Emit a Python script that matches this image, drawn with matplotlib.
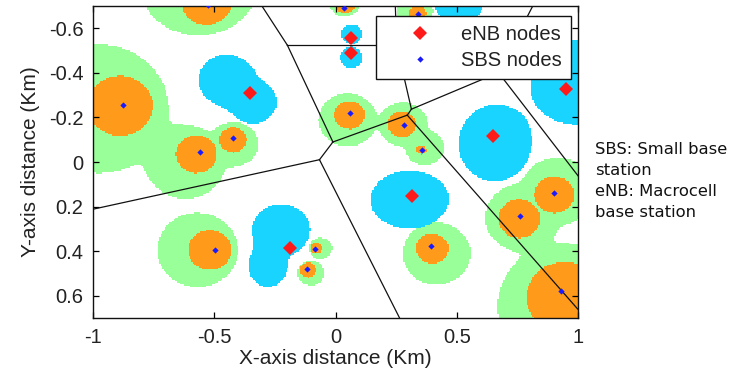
import numpy as np
import matplotlib
matplotlib.use("Agg")
import matplotlib.pyplot as plt
from matplotlib.lines import Line2D

plt.rcParams["axes.unicode_minus"] = False
plt.rcParams["font.family"] = ["Liberation Sans", "DejaVu Sans"]

# ---- macrocell (eNB) sites; the last one sits under the legend ----
enb_x = [-0.352, 0.062, 0.062, 0.950, 0.648, 0.315, -0.186, 0.44]
enb_y = [-0.311, -0.558, -0.490, -0.329, -0.115, 0.154, 0.387, -0.57]

# ---- small base stations (SBS) ----
sbs_x = [-0.875, -0.558, -0.424, -0.495, -0.085, -0.119, 0.901, 0.762,
         0.930, 0.058, 0.281, 0.358, 0.395, -0.524, 0.037, 0.340]
sbs_y = [-0.254, -0.044, -0.109, 0.396, 0.389, 0.480, 0.140, 0.243,
         0.578, -0.221, -0.165, -0.056, 0.375, -0.703, -0.693, -0.663]

# inner (orange) SBS coverage discs
inner_x = [-0.890, -0.575, -0.424, -0.520, -0.080, -0.114, 0.905, 0.760,
           0.950, 0.058, 0.275, 0.355, 0.400, -0.533, 0.040, 0.340]
inner_y = [-0.254, -0.035, -0.100, 0.397, 0.389, 0.487, 0.147, 0.255,
           0.610, -0.212, -0.170, -0.056, 0.390, -0.724, -0.710, -0.670]
inner_r = [0.135, 0.085, 0.057, 0.090, 0.025, 0.034, 0.082, 0.087,
           0.160, 0.063, 0.058, 0.020, 0.067, 0.106, 0.040, 0.035]

# outer (green) SBS coverage discs
outer_x = [-0.980, -0.620, -0.420, -0.570, -0.062, -0.102, 0.920, 0.770,
           0.950, 0.050, 0.280, 0.370, 0.418, -0.565, 0.037, 0.330]
outer_y = [-0.240, 0.000, -0.080, 0.397, 0.389, 0.500, 0.130, 0.250,
           0.650, -0.190, -0.170, -0.065, 0.413, -0.820, -0.720, -0.680]
outer_r = [0.290, 0.165, 0.100, 0.167, 0.048, 0.056, 0.150, 0.150,
           0.280, 0.120, 0.100, 0.080, 0.140, 0.250, 0.065, 0.075]

# macrocell (cyan) coverage lobes: centre, x/y semi-axes
macro_x = [-0.450, -0.340, 0.066, 0.066, 1.000, 0.660, 0.305, -0.225, -0.280, 0.510]
macro_y = [-0.370, -0.270, -0.578, -0.470, -0.360, -0.085, 0.170, 0.305, 0.470, -0.720]
macro_rx = [0.115, 0.095, 0.044, 0.046, 0.190, 0.148, 0.160, 0.118, 0.078, 0.100]
macro_ry = [0.115, 0.095, 0.042, 0.047, 0.190, 0.170, 0.130, 0.115, 0.092, 0.100]

x_ticks = [-1, -0.5, 0, 0.5, 1]
x_tick_labels = ["-1", "-0.5", "0", "0.5", "1"]
y_ticks = [-0.6, -0.4, -0.2, 0, 0.2, 0.4, 0.6]
y_tick_labels = ["-0.6", "-0.4", "-0.2", "0", "0.2", "0.4", "0.6"]

GREEN = "#99ff99"
ORANGE = "#ff9a1a"
CYAN = "#19d4ff"
TEXT = "#222222"

XMIN, XMAX, YMIN, YMAX = -1.0, 1.0, -0.7, 0.7


def blob_field(gx, gy, cx, cy, rx, ry, p=8):
    """Smooth union of elliptical discs: field >= 1 inside."""
    f = np.zeros_like(gx)
    for x0, y0, ax_, ay_ in zip(cx, cy, rx, ry):
        d = np.sqrt(((gx - x0) / ax_) ** 2 + ((gy - y0) / ay_) ** 2) + 1e-9
        f += d ** (-p)
    return f


def voronoi_edges(px, py):
    pts = np.column_stack([px, py])
    edges = []
    n = len(pts)
    for i in range(n):
        for j in range(i + 1, n):
            si, sj = pts[i], pts[j]
            mid = 0.5 * (si + sj)
            nv = sj - si
            d = np.array([-nv[1], nv[0]])
            d /= np.linalg.norm(d)
            lo, hi = -6.0, 6.0
            ok = True
            for k in range(n):
                if k in (i, j):
                    continue
                sk = pts[k]
                a = 2 * (sk - si)
                rhs = sk @ sk - si @ si
                ad = a @ d
                c = rhs - a @ mid
                if abs(ad) < 1e-12:
                    if c < 0:
                        ok = False
                        break
                elif ad > 0:
                    hi = min(hi, c / ad)
                else:
                    lo = max(lo, c / ad)
            if ok and lo < hi:
                edges.append((mid + lo * d, mid + hi * d))
    return edges


fig = plt.figure(figsize=(7.36, 3.71), dpi=100)
ax = fig.add_axes([93 / 736, 53 / 371, 485 / 736, 312 / 371])

# coverage raster
W, H = 330, 212
gx, gy = np.meshgrid(np.linspace(XMIN, XMAX, W), np.linspace(YMIN, YMAX, H))
img = np.ones((H, W, 3))

green = blob_field(gx, gy, outer_x, outer_y, outer_r, outer_r, p=8) >= 1
cyan = blob_field(gx, gy, macro_x, macro_y, macro_rx, macro_ry, p=4) >= 1
orange = np.zeros_like(green)
for x0, y0, r in zip(inner_x, inner_y, inner_r):
    orange |= (gx - x0) ** 2 + (gy - y0) ** 2 <= r ** 2

img[green] = matplotlib.colors.to_rgb(GREEN)
img[cyan] = matplotlib.colors.to_rgb(CYAN)
img[orange] = matplotlib.colors.to_rgb(ORANGE)

ax.imshow(img, extent=(XMIN, XMAX, YMIN, YMAX), origin="lower",
          aspect="auto", interpolation="nearest", zorder=0)

# cell borders between macrocells
for p0, p1 in voronoi_edges(enb_x, enb_y):
    ax.plot([p0[0], p1[0]], [p0[1], p1[1]], color="#111111", lw=0.9, zorder=2)

ax.plot(enb_x, enb_y, linestyle="none", marker="D", markersize=7,
        color="#ff1a1a", markeredgewidth=0, zorder=4)
ax.plot(sbs_x, sbs_y, linestyle="none", marker="D", markersize=3.2,
        color="#1a1aff", markeredgewidth=0, zorder=5)

ax.set_xlim(XMIN, XMAX)
ax.set_ylim(YMAX, YMIN)
ax.set_xticks(x_ticks)
ax.set_xticklabels(x_tick_labels)
ax.set_yticks(y_ticks)
ax.set_yticklabels(y_tick_labels)
ax.tick_params(direction="in", length=4, width=0.9, top=True, right=True,
               labelsize=14.5, labelcolor=TEXT, pad=7)
for s in ax.spines.values():
    s.set_linewidth(1.0)
    s.set_color("#111111")

ax.set_xlabel("X-axis distance (Km)", fontsize=15, color=TEXT, labelpad=2)
ax.set_ylabel("Y-axis distance (Km)", fontsize=15, color=TEXT, labelpad=6)

handles = [
    Line2D([], [], linestyle="none", marker="D", markersize=7,
           color="#ff1a1a", markeredgewidth=0),
    Line2D([], [], linestyle="none", marker="D", markersize=3.2,
           color="#1a1aff", markeredgewidth=0),
]
leg = ax.legend(handles, ["eNB nodes", "SBS nodes"], loc="upper right",
                bbox_to_anchor=(0.986, 0.968), borderaxespad=0,
                fontsize=14.5, frameon=True, fancybox=False,
                handlelength=3.5, handletextpad=0.3, borderpad=0.45,
                labelspacing=0.35, framealpha=1)
leg.get_frame().set_edgecolor("#111111")
leg.get_frame().set_linewidth(1.0)
for t in leg.get_texts():
    t.set_color(TEXT)
leg.set_zorder(10)

fig.text(595 / 736, (371 - 142) / 371,
         "SBS: Small base\nstation\neNB: Macrocell\nbase station",
         fontsize=11.8, family="DejaVu Sans", color="#111111",
         va="top", ha="left", linespacing=1.5)

fig.savefig("out.png", dpi=100)
